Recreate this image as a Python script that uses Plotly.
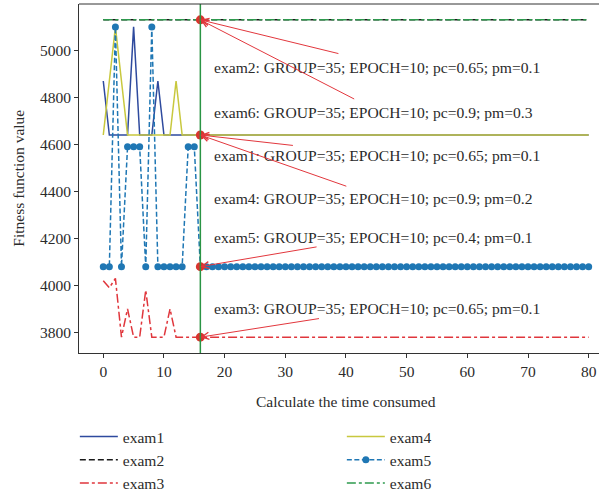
import plotly.graph_objects as go

# ---------------- data ----------------
steps = list(range(0, 81))

exam1 = [4870, 4640, 4640, 4640, 4640, 5100, 4640, 4640, 4640, 4870,
         4640, 4640, 4640, 4640, 4640, 4640, 4640, 4640, 4640, 4640,
         4640, 4640, 4640, 4640, 4640, 4640, 4640, 4640, 4640, 4640,
         4640, 4640, 4640, 4640, 4640, 4640, 4640, 4640, 4640, 4640,
         4640, 4640, 4640, 4640, 4640, 4640, 4640, 4640, 4640, 4640,
         4640, 4640, 4640, 4640, 4640, 4640, 4640, 4640, 4640, 4640,
         4640, 4640, 4640, 4640, 4640, 4640, 4640, 4640, 4640, 4640,
         4640, 4640, 4640, 4640, 4640, 4640, 4640, 4640, 4640, 4640,
         4640]
exam2 = [5130, 5130, 5130, 5130, 5130, 5130, 5130, 5130, 5130, 5130,
         5130, 5130, 5130, 5130, 5130, 5130, 5130, 5130, 5130, 5130,
         5130, 5130, 5130, 5130, 5130, 5130, 5130, 5130, 5130, 5130,
         5130, 5130, 5130, 5130, 5130, 5130, 5130, 5130, 5130, 5130,
         5130, 5130, 5130, 5130, 5130, 5130, 5130, 5130, 5130, 5130,
         5130, 5130, 5130, 5130, 5130, 5130, 5130, 5130, 5130, 5130,
         5130, 5130, 5130, 5130, 5130, 5130, 5130, 5130, 5130, 5130,
         5130, 5130, 5130, 5130, 5130, 5130, 5130, 5130, 5130, 5130,
         5130]
exam3 = [4020, 3990, 4030, 3780, 3900, 3780, 3780, 3980, 3780, 3780,
         3780, 3900, 3780, 3780, 3780, 3780, 3780, 3780, 3780, 3780,
         3780, 3780, 3780, 3780, 3780, 3780, 3780, 3780, 3780, 3780,
         3780, 3780, 3780, 3780, 3780, 3780, 3780, 3780, 3780, 3780,
         3780, 3780, 3780, 3780, 3780, 3780, 3780, 3780, 3780, 3780,
         3780, 3780, 3780, 3780, 3780, 3780, 3780, 3780, 3780, 3780,
         3780, 3780, 3780, 3780, 3780, 3780, 3780, 3780, 3780, 3780,
         3780, 3780, 3780, 3780, 3780, 3780, 3780, 3780, 3780, 3780,
         3780]
exam4 = [4640, 4870, 5100, 4870, 4640, 4640, 4640, 4640, 4640, 4640,
         4640, 4640, 4870, 4640, 4640, 4640, 4640, 4640, 4640, 4640,
         4640, 4640, 4640, 4640, 4640, 4640, 4640, 4640, 4640, 4640,
         4640, 4640, 4640, 4640, 4640, 4640, 4640, 4640, 4640, 4640,
         4640, 4640, 4640, 4640, 4640, 4640, 4640, 4640, 4640, 4640,
         4640, 4640, 4640, 4640, 4640, 4640, 4640, 4640, 4640, 4640,
         4640, 4640, 4640, 4640, 4640, 4640, 4640, 4640, 4640, 4640,
         4640, 4640, 4640, 4640, 4640, 4640, 4640, 4640, 4640, 4640,
         4640]
exam5 = [4080, 4080, 5100, 4080, 4590, 4590, 4590, 4080, 5100, 4080,
         4080, 4080, 4080, 4080, 4590, 4590, 4080, 4080, 4080, 4080,
         4080, 4080, 4080, 4080, 4080, 4080, 4080, 4080, 4080, 4080,
         4080, 4080, 4080, 4080, 4080, 4080, 4080, 4080, 4080, 4080,
         4080, 4080, 4080, 4080, 4080, 4080, 4080, 4080, 4080, 4080,
         4080, 4080, 4080, 4080, 4080, 4080, 4080, 4080, 4080, 4080,
         4080, 4080, 4080, 4080, 4080, 4080, 4080, 4080, 4080, 4080,
         4080, 4080, 4080, 4080, 4080, 4080, 4080, 4080, 4080, 4080,
         4080]
exam6 = [5130, 5130, 5130, 5130, 5130, 5130, 5130, 5130, 5130, 5130,
         5130, 5130, 5130, 5130, 5130, 5130, 5130, 5130, 5130, 5130,
         5130, 5130, 5130, 5130, 5130, 5130, 5130, 5130, 5130, 5130,
         5130, 5130, 5130, 5130, 5130, 5130, 5130, 5130, 5130, 5130,
         5130, 5130, 5130, 5130, 5130, 5130, 5130, 5130, 5130, 5130,
         5130, 5130, 5130, 5130, 5130, 5130, 5130, 5130, 5130, 5130,
         5130, 5130, 5130, 5130, 5130, 5130, 5130, 5130, 5130, 5130,
         5130, 5130, 5130, 5130, 5130, 5130, 5130, 5130, 5130, 5130,
         5130]

series_names = ["exam1", "exam2", "exam3", "exam4", "exam5", "exam6"]
marked_step = 16
marked_values = [5130, 4640, 4080, 3780]

# annotation texts, anchored text positions and arrow tails (data units)
note_texts = [
    "exam2: GROUP=35; EPOCH=10; pc=0.65; pm=0.1",
    "exam6: GROUP=35; EPOCH=10; pc=0.9; pm=0.3",
    "exam1: GROUP=35; EPOCH=10; pc=0.65; pm=0.1",
    "exam4: GROUP=35; EPOCH=10; pc=0.9; pm=0.2",
    "exam5: GROUP=35; EPOCH=10; pc=0.4; pm=0.1",
    "exam3: GROUP=35; EPOCH=10; pc=0.65; pm=0.1",
]
note_text_x = [17.85, 17.85, 17.85, 17.85, 17.85, 17.85]
note_text_y = [4927, 4736, 4552, 4369, 4206, 3903]
note_tail_x = [39.0, 41.6, 31.5, 40.3, 35.4, 35.8]
note_tail_y = [4985, 4790, 4595, 4420, 4165, 3860]
note_target_y = [5130, 5130, 4640, 4640, 4080, 3780]

x_ticks = [0, 10, 20, 30, 40, 50, 60, 70, 80]
y_ticks = [3800, 4000, 4200, 4400, 4600, 4800, 5000]
x_title = "Calculate the time consumed"
y_title = "Fitness function value"

# ---------------- styles ----------------
FONT = "Liberation Serif, Times New Roman, serif"
TXT = "#2b2b2b"
styles = {
    "exam1": dict(color="#2e4a9e", dash="solid", width=1.5),
    "exam2": dict(color="#1a1a1a", dash="6px,3px", width=1.5),
    "exam3": dict(color="#e0363c", dash="dashdot", width=1.5),
    "exam4": dict(color="#c8c83e", dash="solid", width=1.5),
    "exam5": dict(color="#1f77b4", dash="5px,2.5px", width=1.5),
    "exam6": dict(color="#2e9a4e", dash="dashdot", width=1.5),
}
ranks = {"exam1": 1, "exam4": 2, "exam2": 3, "exam5": 4, "exam3": 5, "exam6": 6}
data = {"exam1": exam1, "exam2": exam2, "exam3": exam3,
        "exam4": exam4, "exam5": exam5, "exam6": exam6}

fig = go.Figure()
for name in series_names:
    kw = dict(x=steps, y=data[name], name=name, line=styles[name],
              legendrank=ranks[name])
    if name == "exam5":
        kw["mode"] = "lines+markers"
        kw["marker"] = dict(size=7, color="#1f77b4")
    else:
        kw["mode"] = "lines"
    fig.add_trace(go.Scatter(**kw))

fig.add_trace(go.Scatter(x=[marked_step] * len(marked_values), y=marked_values,
                         mode="markers", marker=dict(size=9, color="#d9342e"),
                         showlegend=False))

fig.add_shape(type="line", xref="x", yref="paper", x0=marked_step, x1=marked_step,
              y0=0, y1=1, line=dict(color="#2a9444", width=1.5))
# top frame
fig.add_shape(type="line", xref="paper", yref="paper", x0=0, x1=1, y0=1, y1=1,
              line=dict(color="#333333", width=1))

for i in range(len(note_texts)):
    fig.add_annotation(x=marked_step, y=note_target_y[i], ax=note_tail_x[i], ay=note_tail_y[i],
                       xref="x", yref="y", axref="x", ayref="y", text="",
                       showarrow=True, arrowhead=5, arrowsize=1.4, arrowwidth=1,
                       arrowcolor="#e2373d", standoff=0)
    fig.add_annotation(x=note_text_x[i], y=note_text_y[i], xref="x", yref="y",
                       text=note_texts[i], showarrow=False, xanchor="left",
                       yanchor="middle", font=dict(family=FONT, size=15.6, color=TXT))

fig.add_annotation(x=40, y=-0.14, xref="x", yref="paper", text=x_title,
                   showarrow=False, xanchor="center", yanchor="middle",
                   font=dict(family=FONT, size=15.5, color=TXT))
fig.add_annotation(x=-0.117, y=0.5, xref="paper", yref="paper", text=y_title,
                   textangle=-90, showarrow=False, xanchor="center", yanchor="middle",
                   font=dict(family=FONT, size=15.5, color=TXT))

fig.update_layout(
    width=599, height=491,
    margin=dict(l=79, r=0, t=4, b=138, autoexpand=False),
    paper_bgcolor="white", plot_bgcolor="white",
    font=dict(family=FONT, size=15.5, color=TXT),
    showlegend=True,
    legend=dict(orientation="h", x=-0.008, xanchor="left", y=-0.192, yanchor="top",
                entrywidth=214, entrywidthmode="pixels", itemwidth=38,
                font=dict(family=FONT, size=15.5, color=TXT),
                bgcolor="rgba(0,0,0,0)", traceorder="normal"),
)
fig.update_xaxes(range=[-4, 81.7], tickvals=x_ticks, showgrid=False, zeroline=False,
                 showline=True, linecolor="#333333", linewidth=1,
                 ticks="outside", ticklen=4, tickcolor="#333333",
                 tickfont=dict(family=FONT, size=15.5, color=TXT))
fig.update_yaxes(range=[3712.5, 5197.5], tickvals=y_ticks, showgrid=False, zeroline=False,
                 showline=True, linecolor="#333333", linewidth=1,
                 ticks="outside", ticklen=4, tickcolor="#333333",
                 tickfont=dict(family=FONT, size=15.5, color=TXT))

fig.write_html("out.html", config={"displayModeBar": False},
               post_script="document.body.style.margin='0';document.body.style.overflow='hidden';")
